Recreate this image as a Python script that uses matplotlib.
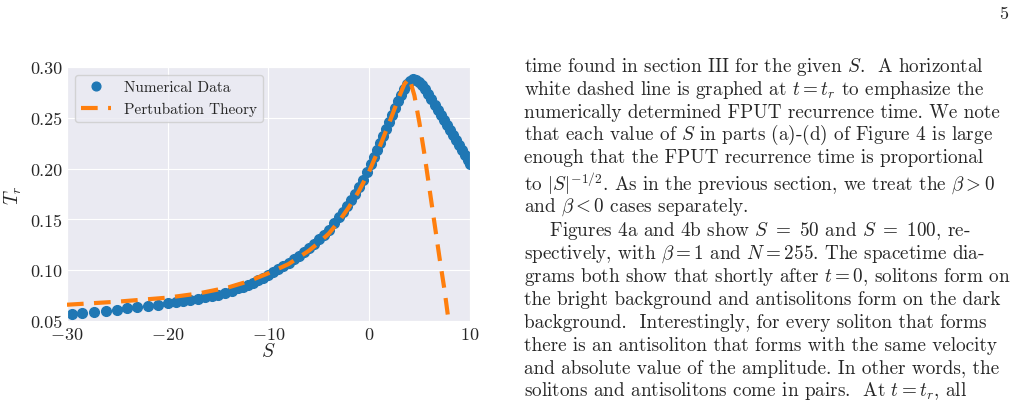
import matplotlib
matplotlib.use('Agg')
import matplotlib.pyplot as plt
import seaborn as sns

sns.set_style('darkgrid')
plt.rcParams['font.family'] = 'serif'
plt.rcParams['font.serif'] = ['cmr10']
plt.rcParams['mathtext.fontset'] = 'cm'
plt.rcParams['axes.formatter.use_mathtext'] = True

# numerical data
s_num = [-29.5, -28.5, -27.3, -26.1, -25.0, -24.0, -23.0, -22.0, -21.0, -20.0,
         -19.2, -18.5, -17.8, -17.0, -16.3, -15.6, -15.0, -14.3, -13.6, -13.0,
         -12.5, -12.0, -11.5, -11.0, -10.5, -10.0, -9.5, -9.0, -8.5, -8.0,
         -7.5, -7.0, -6.5, -6.0, -5.5, -5.0, -4.5, -4.0, -3.5, -3.0,
         -2.6, -2.2, -1.8, -1.4, -1.0, -0.6, -0.2, 0.2, 0.5, 0.8,
         1.1, 1.4, 1.7, 2.0, 2.3, 2.6, 2.9, 3.2, 3.5, 3.8,
         4.1, 4.4, 4.7, 5.0, 5.3, 5.6, 5.9, 6.2, 6.5, 6.8,
         7.1, 7.4, 7.7, 8.0, 8.3, 8.6, 8.9, 9.2, 9.5, 9.8, 10.0]
t_num = [0.057, 0.058, 0.059, 0.060, 0.061, 0.063, 0.064, 0.065, 0.066, 0.068,
         0.069, 0.070, 0.071, 0.072, 0.074, 0.075, 0.076, 0.078, 0.080, 0.082,
         0.083, 0.085, 0.087, 0.090, 0.092, 0.095, 0.098, 0.101, 0.104, 0.107,
         0.111, 0.114, 0.118, 0.122, 0.126, 0.131, 0.135, 0.140, 0.146, 0.152,
         0.157, 0.163, 0.169, 0.175, 0.182, 0.189, 0.197, 0.204, 0.211, 0.218,
         0.225, 0.232, 0.239, 0.246, 0.253, 0.260, 0.266, 0.272, 0.278, 0.283,
         0.286, 0.288, 0.287, 0.285, 0.282, 0.278, 0.273, 0.268, 0.263, 0.258,
         0.253, 0.248, 0.243, 0.238, 0.233, 0.228, 0.223, 0.218, 0.213, 0.208, 0.204]

# perturbation theory
s_pt = [-30, -25, -20, -17, -14, -12, -10, -8, -6, -5, -4, -3, -2, -1, 0,
        1, 2, 3, 3.5, 4.0, 4.5, 5.0, 5.5, 6.0, 6.5, 7.0, 7.5, 7.9]
t_pt = [0.066, 0.069, 0.073, 0.077, 0.083, 0.089, 0.097, 0.106, 0.119, 0.127,
        0.136, 0.148, 0.162, 0.178, 0.197, 0.220, 0.245, 0.271, 0.283, 0.289,
        0.272, 0.245, 0.214, 0.180, 0.146, 0.112, 0.080, 0.050]

fig = plt.figure(figsize=(10.21, 4.02), dpi=100)
ax = fig.add_axes([0.0656, 0.199, 0.3945, 0.632])
ax.plot(s_num, t_num, 'o', color='#1f77b4', markersize=7, label='Numerical Data', zorder=2)
ax.plot(s_pt, t_pt, '--', color='#ff7f0e', linewidth=3, dashes=(4, 2.5), label='Pertubation Theory', zorder=3)
ax.set_xlim(-30, 10)
ax.set_ylim(0.05, 0.30)
ax.set_xticks([-30, -20, -10, 0, 10])
ax.set_yticks([0.05, 0.10, 0.15, 0.20, 0.25, 0.30])
ax.set_yticklabels(['0.05', '0.10', '0.15', '0.20', '0.25', '0.30'])
ax.tick_params(labelsize=13, pad=0)
ax.set_xlabel('$S$', fontsize=14, labelpad=0)
ax.set_ylabel('$T_r$', fontsize=14, labelpad=4)
ax.legend(loc='upper left', fontsize=11, frameon=True, markerscale=0.9)

fig.text(0.987, 0.965, '5', fontsize=13, ha='right', va='center')

lines = [
    'time found in section III for the given $S$.  A horizontal',
    'white dashed line is graphed at $t = t_r$ to emphasize the',
    'numerically determined FPUT recurrence time. We note',
    'that each value of $S$ in parts (a)-(d) of Figure 4 is large',
    'enough that the FPUT recurrence time is proportional',
    'to $|S|^{-1/2}$. As in the previous section, we treat the $\\beta > 0$',
    'and $\\beta < 0$ cases separately.',
    '    Figures 4a and 4b show $S\\ =\\ 50$ and $S\\ =\\ 100$, re-',
    'spectively, with $\\beta = 1$ and $N = 255$. The spacetime dia-',
    'grams both show that shortly after $t = 0$, solitons form on',
    'the bright background and antisolitons form on the dark',
    'background.  Interestingly, for every soliton that forms',
    'there is an antisoliton that forms with the same velocity',
    'and absolute value of the amplitude. In other words, the',
    'solitons and antisolitons come in pairs.  At $t = t_r$, all',
]
ys = [67, 90, 113, 135, 158, 184, 207, 231, 254, 277, 300, 323, 346, 369, 391]
for line, y in zip(lines, ys):
    fig.text(524 / 1021, 1 - y / 402, line, fontsize=13.8, ha='left', va='center')

fig.savefig('out.png', dpi=100)
